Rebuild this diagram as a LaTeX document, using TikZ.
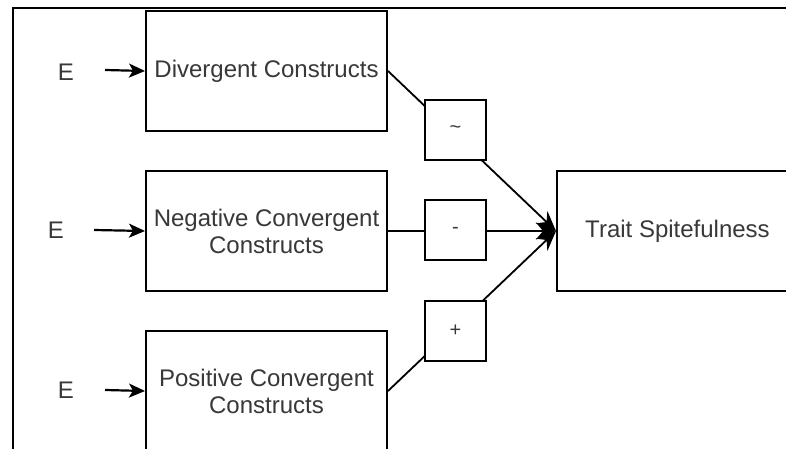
\documentclass[tikz,border=0pt]{standalone}
\usepackage{fontspec}
\setmainfont{Liberation Sans}
\usetikzlibrary{arrows.meta}
\definecolor{txt}{rgb}{0.22,0.22,0.22}
\tikzset{
  cbox/.style={draw=black, line width=2pt, fill=white, minimum width=241pt, minimum height=120pt,
    anchor=north west, align=center, inner sep=0pt, text=txt, font=\fontsize{24}{27}\selectfont},
  sbox/.style={draw=black, line width=2pt, fill=white, minimum width=61pt, minimum height=60pt,
    inner sep=0pt, text=txt, font=\fontsize{20}{22}\selectfont},
  elabel/.style={text=txt, inner sep=0pt, font=\fontsize{24}{27}\selectfont},
  earr/.style={line width=2.2pt, -{Stealth[length=16pt,width=14pt,inset=4pt]}},
  carr/.style={line width=1.8pt, -{Stealth[length=20pt,width=17pt,inset=7pt]}},
  frame/.style={line width=2.5pt, draw=black}
}
\begin{document}
\begin{tikzpicture}[x=1pt,y=-1pt]
\clip (0,0) rectangle (786,449);
\fill[white] (0,0) rectangle (786,449);
% frame
\draw[frame] (13,460) -- (13,8) -- (800,8);
% construct boxes
\node[cbox] (b1) at (145,10) {Divergent Constructs};
\node[cbox] (b2) at (145,170) {Negative Convergent\\Constructs};
\node[cbox] (b3) at (145,330) {Positive Convergent\\Constructs};
\node[cbox] (tr) at (556,170) {Trait Spitefulness};
% E labels
\node[elabel] (e1) at (66,72) {E};
\node[elabel] (e2) at (56,230) {E};
\node[elabel] (e3) at (66,390) {E};
\coordinate (s1) at (105,70);
\coordinate (s2) at (94,230);
\coordinate (s3) at (105,390);
\draw[earr] (s1) -- (b1.west);
\draw[earr] (s2) -- (b2.west);
\draw[earr] (s3) -- (b3.west);
% connectors to trait
\draw[carr] (b1.east) -- (tr.west);
\draw[carr] (b2.east) -- (tr.west);
\draw[carr] (b3.east) -- (tr.west);
% sign boxes
\node[sbox] (k1) at (455.5,130) {\raisebox{-3pt}{\~{}}};
\node[sbox] (k2) at (455.5,230) {-};
\node[sbox] (k3) at (455.5,330.5) {+};
\end{tikzpicture}
\end{document}
